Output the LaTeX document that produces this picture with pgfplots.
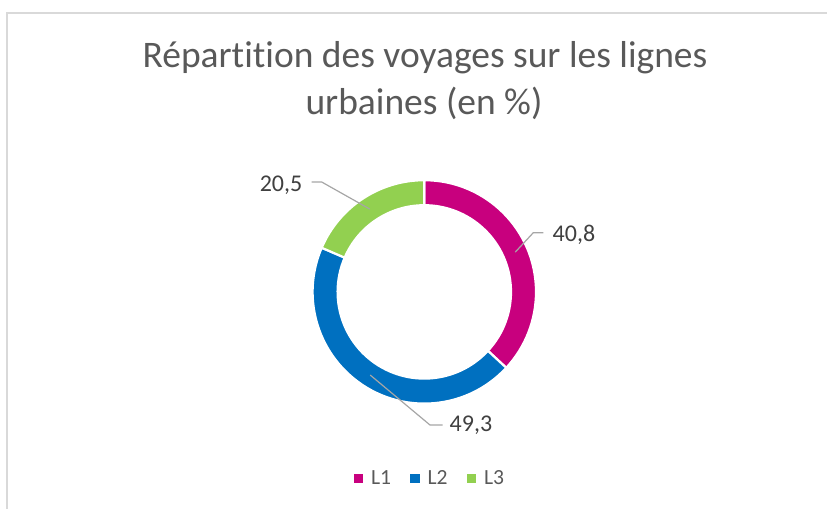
\documentclass[border=0pt]{standalone}
\usepackage{pgfplots}
\pgfplotsset{compat=1.18}
\usepackage{pgfplotstable}
\usepackage{fontspec}
\setmainfont{Carlito}[Ligatures={NoCommon}]

\definecolor{cLA}{HTML}{C8007E}
\definecolor{cLB}{HTML}{0070C0}
\definecolor{cLC}{HTML}{92D050}
\definecolor{titlegray}{HTML}{595959}
\definecolor{labelgray}{HTML}{404040}
\definecolor{leadgray}{HTML}{A6A6A6}
\definecolor{framegray}{HTML}{D9D9D9}

% voyages par ligne (en %)
\pgfplotstableread{
ligne valeur
L1    40.8
L2    49.3
L3    20.5
}\voyages

\pgfplotstablegetelem{0}{valeur}\of\voyages \let\vA\pgfplotsretval
\pgfplotstablegetelem{1}{valeur}\of\voyages \let\vB\pgfplotsretval
\pgfplotstablegetelem{2}{valeur}\of\voyages \let\vC\pgfplotsretval

% angles (clockwise from the top)
\pgfmathsetmacro\tot{\vA+\vB+\vC}
\pgfmathsetmacro\aA{90}
\pgfmathsetmacro\aB{\aA-360*(\vA/\tot)}
\pgfmathsetmacro\aC{\aB-360*(\vB/\tot)}
\pgfmathsetmacro\aD{\aC-360*(\vC/\tot)}
\pgfmathsetmacro\mA{(\aA+\aB)/2}
\pgfmathsetmacro\mB{(\aB+\aC)/2}
\pgfmathsetmacro\mC{(\aC+\aD)/2}

\def\cx{424.3}
\def\cy{291.9}
\def\Ro{111.7bp}
\def\Ri{86.7bp}
\def\Rm{99.2bp}

\newcommand\segment[3]{%
  \fill[#1, draw=white, line width=2.2bp, line join=miter]
    ([shift={(#2:\Ro)}]axis cs:\cx,\cy) arc[start angle=#2, end angle=#3, radius=\Ro]
    -- ([shift={(#3:\Ri)}]axis cs:\cx,\cy) arc[start angle=#3, end angle=#2, radius=\Ri]
    -- cycle;}
\newcommand\valeur[1]{\pgfmathprintnumber[fixed, precision=1, use comma, assume math mode=true]{#1}}

\begin{document}
\begin{tikzpicture}
\begin{axis}[
    scale only axis,
    width=827bp, height=509bp,
    xmin=0, xmax=827, ymin=0, ymax=509,
    y dir=reverse,
    hide axis,
    clip=false,
    legend style={at={(axis cs:429,478)}, anchor=center, draw=none, fill=none,
        legend columns=-1, text=titlegray, nodes={inner sep=0pt},
        font=\fontsize{21.6bp}{24bp}\selectfont,
        /tikz/every odd column/.append style={column sep=8.4bp},
        /tikz/every even column/.append style={column sep=19.3bp}},
    legend image code/.code={\fill[#1] (0bp,-4.2bp) rectangle (8.4bp,4.2bp);},
]
\addlegendimage{cLA}\addlegendentry{L1}
\addlegendimage{cLB}\addlegendentry{L2}
\addlegendimage{cLC}\addlegendentry{L3}

% cadre
\draw[framegray, line width=1.6bp] (axis cs:7,509) -- (axis cs:7,13) -- (axis cs:827,13);

% titre
\node[anchor=base, text=titlegray, inner sep=0pt, font=\fontsize{37.5bp}{40bp}\selectfont]
    at (axis cs:425,67.5) {Répartition des voyages sur les lignes};
\node[anchor=base, text=titlegray, inner sep=0pt, font=\fontsize{37.5bp}{40bp}\selectfont]
    at (axis cs:424,114.3) {urbaines (en \%)};

% anneau
\segment{cLA}{\aA}{\aB}
\segment{cLB}{\aB}{\aC}
\segment{cLC}{\aC}{\aD}

% lignes de rappel
\draw[leadgray, line width=1.2bp] ([shift={(\mA:\Rm)}]axis cs:\cx,\cy) -- (axis cs:533.3,232.7) -- (axis cs:543.3,232.7);
\draw[leadgray, line width=1.2bp] ([shift={(\mB:\Rm)}]axis cs:\cx,\cy) -- (axis cs:430,425) -- (axis cs:442.7,425);
\draw[leadgray, line width=1.2bp] ([shift={(\mC:\Rm)}]axis cs:\cx,\cy) -- (axis cs:321.7,182) -- (axis cs:311.7,182);

% étiquettes
\node[anchor=base west, inner sep=0pt, text=labelgray, font=\fontsize{24bp}{26bp}\selectfont]
    at (axis cs:552.5,241.7) {\valeur{\vA}};
\node[anchor=base west, inner sep=0pt, text=labelgray, font=\fontsize{24bp}{26bp}\selectfont]
    at (axis cs:449.5,431.7) {\valeur{\vB}};
\node[anchor=base east, inner sep=0pt, text=labelgray, font=\fontsize{24bp}{26bp}\selectfont]
    at (axis cs:302.5,191.7) {\valeur{\vC}};

\coordinate (bl) at (axis cs:0,509);
\coordinate (tr) at (axis cs:827,0);
\end{axis}
\pgfresetboundingbox
\path (bl) rectangle (tr);
\end{tikzpicture}
\end{document}
